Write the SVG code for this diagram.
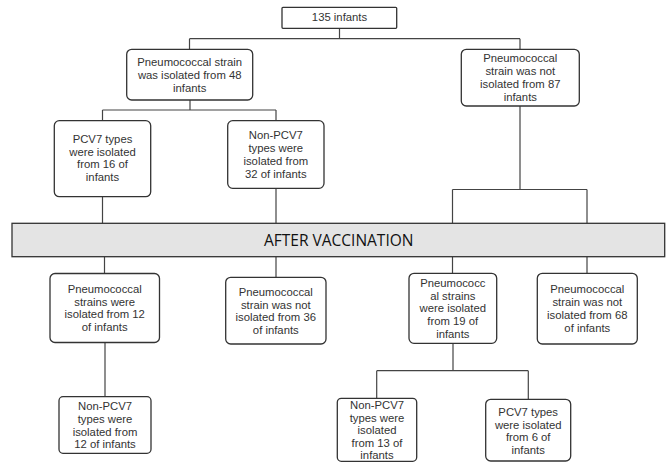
<svg xmlns="http://www.w3.org/2000/svg" width="668" height="462" viewBox="0 0 668 462">
<style>
.box{fill:#fff;stroke:#333;stroke-width:1.3}
.ln{fill:none;stroke:#444;stroke-width:1.2}
.t{font-family:"Liberation Sans",Arial,sans-serif;font-size:11.3px;fill:#333;text-anchor:middle}
.band{fill:#e4e4e4;stroke:#333;stroke-width:1.3}
.bt{font-family:"Open Sans","Liberation Sans",sans-serif;font-size:15.5px;fill:#111;text-anchor:middle}
</style>
<rect width="668" height="462" fill="#fff"/>
<g id="connectors">
<path class="ln" d="M339.5 28.3V38.7M189.5 38.7H520M189.5 38.7V49.3M520 38.7V49.3"/>
<path class="ln" d="M190 100V110M102.5 110H276M102.5 110V120.7M276 110V120.7"/>
<path class="ln" d="M102.5 196.7V223.3M276 188.3V223.3"/>
<path class="ln" d="M520 106V189.5M452.5 189.5H587M452.5 189.5V223.3M587 189.5V223.3"/>
<path class="ln" d="M104.5 256.7V273.3M276 256.7V277.3M452.5 256.7V273.3M587 256.7V273.3"/>
<path class="ln" d="M105 342.7V396.7"/>
<path class="ln" d="M453 343.3V370.7M376.7 370.7H528.3M376.7 370.7V398.3M528.3 370.7V399.3"/>
</g>
<g id="n135">
<rect class="box" x="282" y="7.3" width="114.7" height="21" rx="1"/>
<text class="t" x="339.5" y="21.4">135 infants</text>
</g>
<g id="n48">
<rect class="box" x="126.7" y="49.3" width="126" height="50.7" rx="5"/>
<text class="t"><tspan x="189.7" y="65.8">Pneumococcal strain</tspan><tspan x="189.7" y="78.5">was isolated from 48</tspan><tspan x="189.7" y="91.5">infants</tspan></text>
</g>
<g id="n87">
<rect class="box" x="461.3" y="49.3" width="118" height="56.7" rx="5"/>
<text class="t"><tspan x="520.3" y="62.4">Pneumococcal</tspan><tspan x="520.3" y="75.2">strain was not</tspan><tspan x="520.3" y="88">isolated from 87</tspan><tspan x="520.3" y="100.8">infants</tspan></text>
</g>
<g id="n16">
<rect class="box" x="54.3" y="120.7" width="96.4" height="76" rx="5"/>
<text class="t"><tspan x="102.5" y="143.3">PCV7 types</tspan><tspan x="102.5" y="155.8">were isolated</tspan><tspan x="102.5" y="168.3">from 16 of</tspan><tspan x="102.5" y="180.8">infants</tspan></text>
</g>
<g id="n32">
<rect class="box" x="227.7" y="120.7" width="96.3" height="67.6" rx="5"/>
<text class="t"><tspan x="275.8" y="139">Non-PCV7</tspan><tspan x="275.8" y="152">types were</tspan><tspan x="275.8" y="165">isolated from</tspan><tspan x="275.8" y="178">32 of infants</tspan></text>
</g>
<g id="after">
<rect class="band" x="12" y="223.3" width="652.7" height="33.4"/>
<text class="bt" x="338.7" y="246">AFTER VACCINATION</text>
</g>
<g id="n12">
<rect class="box" x="50" y="273.5" width="109.5" height="69" rx="5"/>
<text class="t"><tspan x="104.7" y="292.8">Pneumococcal</tspan><tspan x="104.7" y="305.6">strains were</tspan><tspan x="104.7" y="318.4">isolated from 12</tspan><tspan x="104.7" y="331.2">of infants</tspan></text>
</g>
<g id="n36">
<rect class="box" x="225.7" y="277.3" width="100.3" height="66.7" rx="5"/>
<text class="t"><tspan x="275.8" y="295.6">Pneumococcal</tspan><tspan x="275.8" y="308.6">strain was not</tspan><tspan x="275.8" y="321.4">isolated from 36</tspan><tspan x="275.8" y="334.2">of infants</tspan></text>
</g>
<g id="n19">
<rect class="box" x="409" y="273.3" width="87.7" height="70" rx="5"/>
<text class="t"><tspan x="452.8" y="287">Pneumococc</tspan><tspan x="452.8" y="299.6">al strains</tspan><tspan x="452.8" y="312.3">were isolated</tspan><tspan x="452.8" y="325">from 19 of</tspan><tspan x="452.8" y="337.6">infants</tspan></text>
</g>
<g id="n68">
<rect class="box" x="537.3" y="273.3" width="100" height="70.7" rx="5"/>
<text class="t"><tspan x="587.3" y="293.2">Pneumococcal</tspan><tspan x="587.3" y="306">strain was not</tspan><tspan x="587.3" y="318.8">isolated from 68</tspan><tspan x="587.3" y="331.6">of infants</tspan></text>
</g>
<g id="n12b">
<rect class="box" x="59" y="396.7" width="92" height="56.6" rx="4"/>
<text class="t"><tspan x="105" y="410">Non-PCV7</tspan><tspan x="105" y="422.8">types were</tspan><tspan x="105" y="435.6">isolated from</tspan><tspan x="105" y="448.4">12 of infants</tspan></text>
</g>
<g id="n13">
<rect class="box" x="337.3" y="398.3" width="79.4" height="63" rx="4"/>
<text class="t"><tspan x="377" y="409.2">Non-PCV7</tspan><tspan x="377" y="421.8">types were</tspan><tspan x="377" y="434.4">isolated</tspan><tspan x="377" y="447">from 13 of</tspan><tspan x="377" y="459.4">infants</tspan></text>
</g>
<g id="n6">
<rect class="box" x="485.7" y="399.3" width="85" height="61.7" rx="5"/>
<text class="t"><tspan x="528.2" y="415.8">PCV7 types</tspan><tspan x="528.2" y="428.6">were isolated</tspan><tspan x="528.2" y="441.4">from 6 of</tspan><tspan x="528.2" y="454.2">infants</tspan></text>
</g>
</svg>
